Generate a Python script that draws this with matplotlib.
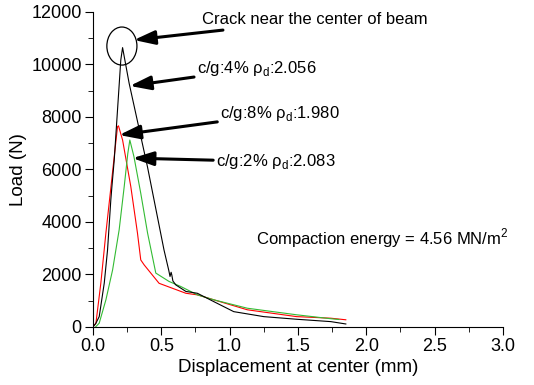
import numpy as np
import matplotlib.pyplot as plt
from matplotlib.patches import Ellipse
from matplotlib.ticker import MultipleLocator

plt.rcParams['font.family'] = ['Liberation Sans', 'DejaVu Sans']
plt.rcParams['mathtext.fontset'] = 'custom'
plt.rcParams['mathtext.rm'] = 'Liberation Sans'

# c/g 4% (black)
x_4 = [0.0, 0.02, 0.046, 0.083, 0.107, 0.131, 0.139, 0.156, 0.18, 0.204, 0.217, 0.265, 0.399, 0.52,
       0.555, 0.564, 0.572, 0.577, 0.585, 0.606, 0.68, 0.764, 0.885, 1.03, 1.25, 1.49, 1.74, 1.85]
y_4 = [0, 120, 390, 1670, 2930, 4840, 5350, 6360, 8270, 10170, 10640, 9280, 6100, 2930,
       2150, 1920, 2080, 1980, 1750, 1600, 1350, 1280, 960, 580, 390, 290, 200, 110]

# c/g 8% (red)
x_8 = [0.0, 0.022, 0.058, 0.095, 0.131, 0.156, 0.18, 0.187, 0.217, 0.277, 0.326, 0.35, 0.375,
       0.484, 0.68, 0.764, 0.885, 1.13, 1.49, 1.74, 1.85]
y_8 = [0, 140, 1670, 3580, 5290, 6490, 7630, 7660, 7120, 5350, 3570, 2550, 2360,
       1660, 1280, 1220, 1030, 650, 390, 330, 270]

# c/g 2% (green)
x_2 = [0.02, 0.046, 0.095, 0.144, 0.192, 0.229, 0.255, 0.27, 0.30, 0.35, 0.40, 0.46, 0.557,
       0.642, 0.764, 0.885, 1.13, 1.49, 1.74, 1.8]
y_2 = [0, 140, 1030, 2170, 3700, 5350, 6600, 7120, 6490, 5090, 3570, 2050, 1730,
       1540, 1220, 1030, 710, 460, 310, 280]

fig = plt.figure(figsize=(5.34, 3.85), dpi=100)
ax = fig.add_axes([0.174, 0.151, 0.768, 0.818])

ax.plot(x_8, y_8, color='red', lw=0.8)
ax.plot(x_2, y_2, color='#33bb33', lw=0.8)
ax.plot(x_4, y_4, color='black', lw=0.8)

ax.set_xlim(0, 3.0)
ax.set_ylim(0, 12000)
ax.xaxis.set_major_locator(MultipleLocator(0.5))
ax.xaxis.set_minor_locator(MultipleLocator(0.25))
ax.yaxis.set_major_locator(MultipleLocator(2000))
ax.yaxis.set_minor_locator(MultipleLocator(1000))
ax.xaxis.set_major_formatter(plt.FormatStrFormatter('%.1f'))
ax.tick_params(which='major', direction='out', length=6, labelsize=13, pad=2)
ax.tick_params(which='minor', direction='out', length=3.5)
ax.spines['top'].set_visible(False)
ax.spines['right'].set_visible(False)
ax.set_xlabel('Displacement at center (mm)', fontsize=13.5, labelpad=3)
ax.set_ylabel('Load (N)', fontsize=13.5, labelpad=3)

ax.add_patch(Ellipse((0.212, 10700), 0.22, 1450, fill=False, edgecolor='black', lw=0.9))

arrow = dict(arrowstyle='-|>,head_length=0.9,head_width=0.3', lw=2.2, color='black',
             mutation_scale=14, shrinkA=0, shrinkB=0)
ax.annotate('Crack near the center of beam', xy=(0.30, 10930), xytext=(0.80, 11700),
            fontsize=12, va='center', ha='left', arrowprops=arrow)
ax.annotate(r'c/g:4% ρ$_{\mathregular{d}}$:2.056', xy=(0.27, 9180), xytext=(0.76, 9850),
            fontsize=12, va='center', ha='left', arrowprops=arrow)
ax.annotate(r'c/g:8% ρ$_{\mathregular{d}}$:1.980', xy=(0.192, 7310), xytext=(0.93, 8130),
            fontsize=12, va='center', ha='left', arrowprops=arrow)
ax.annotate(r'c/g:2% ρ$_{\mathregular{d}}$:2.083', xy=(0.29, 6430), xytext=(0.90, 6290),
            fontsize=12, va='center', ha='left', arrowprops=arrow)
ax.text(1.19, 3390, r'Compaction energy = 4.56 MN/m$^{\mathregular{2}}$', fontsize=12,
        va='center', ha='left')

plt.savefig('out.png', dpi=100)
